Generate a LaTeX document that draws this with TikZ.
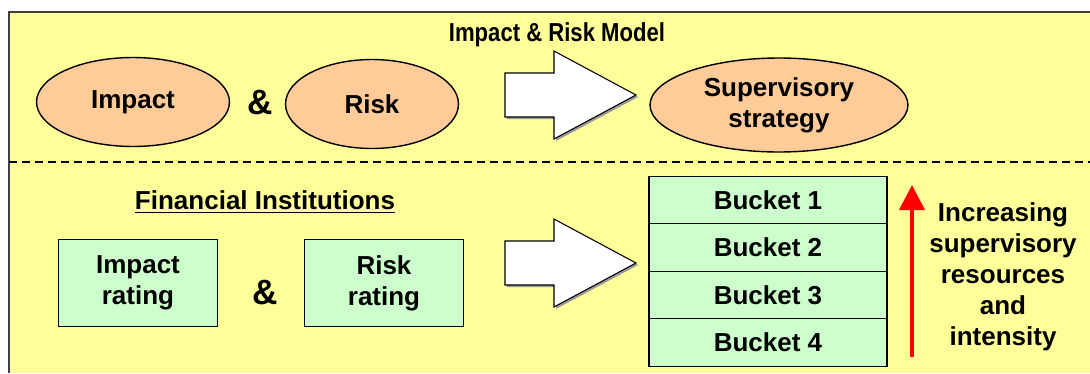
\documentclass[tikz,border=0pt]{standalone}
\usepackage{fontspec}
\usepackage{graphicx}
\setmainfont{Liberation Sans}
\usetikzlibrary{arrows.meta, shapes, positioning}
\definecolor{fiyellow}{RGB}{255,255,153}
\definecolor{fipeach}{RGB}{255,204,153}
\definecolor{figreen}{RGB}{204,255,204}

\begin{document}
\begin{tikzpicture}[x=0.02cm, y=-0.02cm, node distance=0.95cm, thick,
                    txt/.style= {font=\bfseries\fontsize{14.8}{17.6}\selectfont,
                      align=center},
                    oval/.style= {ellipse,
                      fill=fipeach,
                      draw,
                      txt,
                      inner sep=0pt},
                    rating/.style= {rectangle,
                      fill=figreen,
                      draw,
                      txt,
                      inner sep=0pt,
                      minimum width=3.18cm,
                      minimum height=1.74cm},
                    bucket/.style= {rectangle,
                      fill=figreen,
                      draw,
                      txt,
                      inner sep=0pt,
                      minimum width=4.76cm,
                      minimum height=0.95cm},
                    amp/.style= {font=\bfseries\fontsize{20}{24}\selectfont},
                    block/.style= {draw, fill=white, semithick}]

  \useasboundingbox (0,0) rectangle (1090,373);
  \fill[fiyellow] (9,12) rectangle (1090,373);
  \draw[darkgray] (9,373) -- (9,12) -- (1090,12);
  \draw[dash pattern=on 0.16cm off 0.1cm] (9,162) -- (1090,162);

  % block arrows
  \foreach \y in {95,263} {
    \fill[black!40] (507,\y-20) -- (556,\y-20) -- (556,\y-42) -- (638,\y+2) -- (556,\y+46) -- (556,\y+24) -- (507,\y+24) -- cycle;
    \filldraw[block] (505,\y-22) -- (554,\y-22) -- (554,\y-44) -- (636,\y) -- (554,\y+44) -- (554,\y+22) -- (505,\y+22) -- cycle;
  }

  \node[txt] (0) at (557,35) {\scalebox{0.85}[1]{Impact \& Risk Model}};
  \node[oval, minimum width=3.86cm, minimum height=1.78cm] (1) at (133,102) {Impact};
  \node[amp] (2) at (260,103) {\&};
  \node[oval, minimum width=3.46cm, minimum height=1.78cm] (3) at (372,104) {Risk};
  \node[oval, minimum width=5.16cm, minimum height=1.88cm] (4) at (779,105) {Supervisory\\strategy};

  \node[txt] (5) at (265,202) {\underline{Financial Institutions}};
  \node[rating] (6) at (138,283) {Impact\\rating};
  \node[amp] (7) at (265,293) {\&};
  \node[rating] (8) at (384,283) {Risk\\rating};

  \node[bucket] (9) at (768,200) {Bucket 1};
  \node[bucket] (10) [below of=9] {Bucket 2};
  \node[bucket] (11) [below of=10] {Bucket 3};
  \node[bucket] (12) [below of=11] {Bucket 4};
  \node[txt] (13) at (1003,277) {Increasing\\supervisory\\resources\\and\\intensity};

  \coordinate (14) at (912,357);
  \coordinate (15) at (912,185);
  \draw[red, line width=0.08cm, -{Triangle[width=0.5cm, length=0.5cm]}] (14) -- (15);
\end{tikzpicture}
\end{document}
